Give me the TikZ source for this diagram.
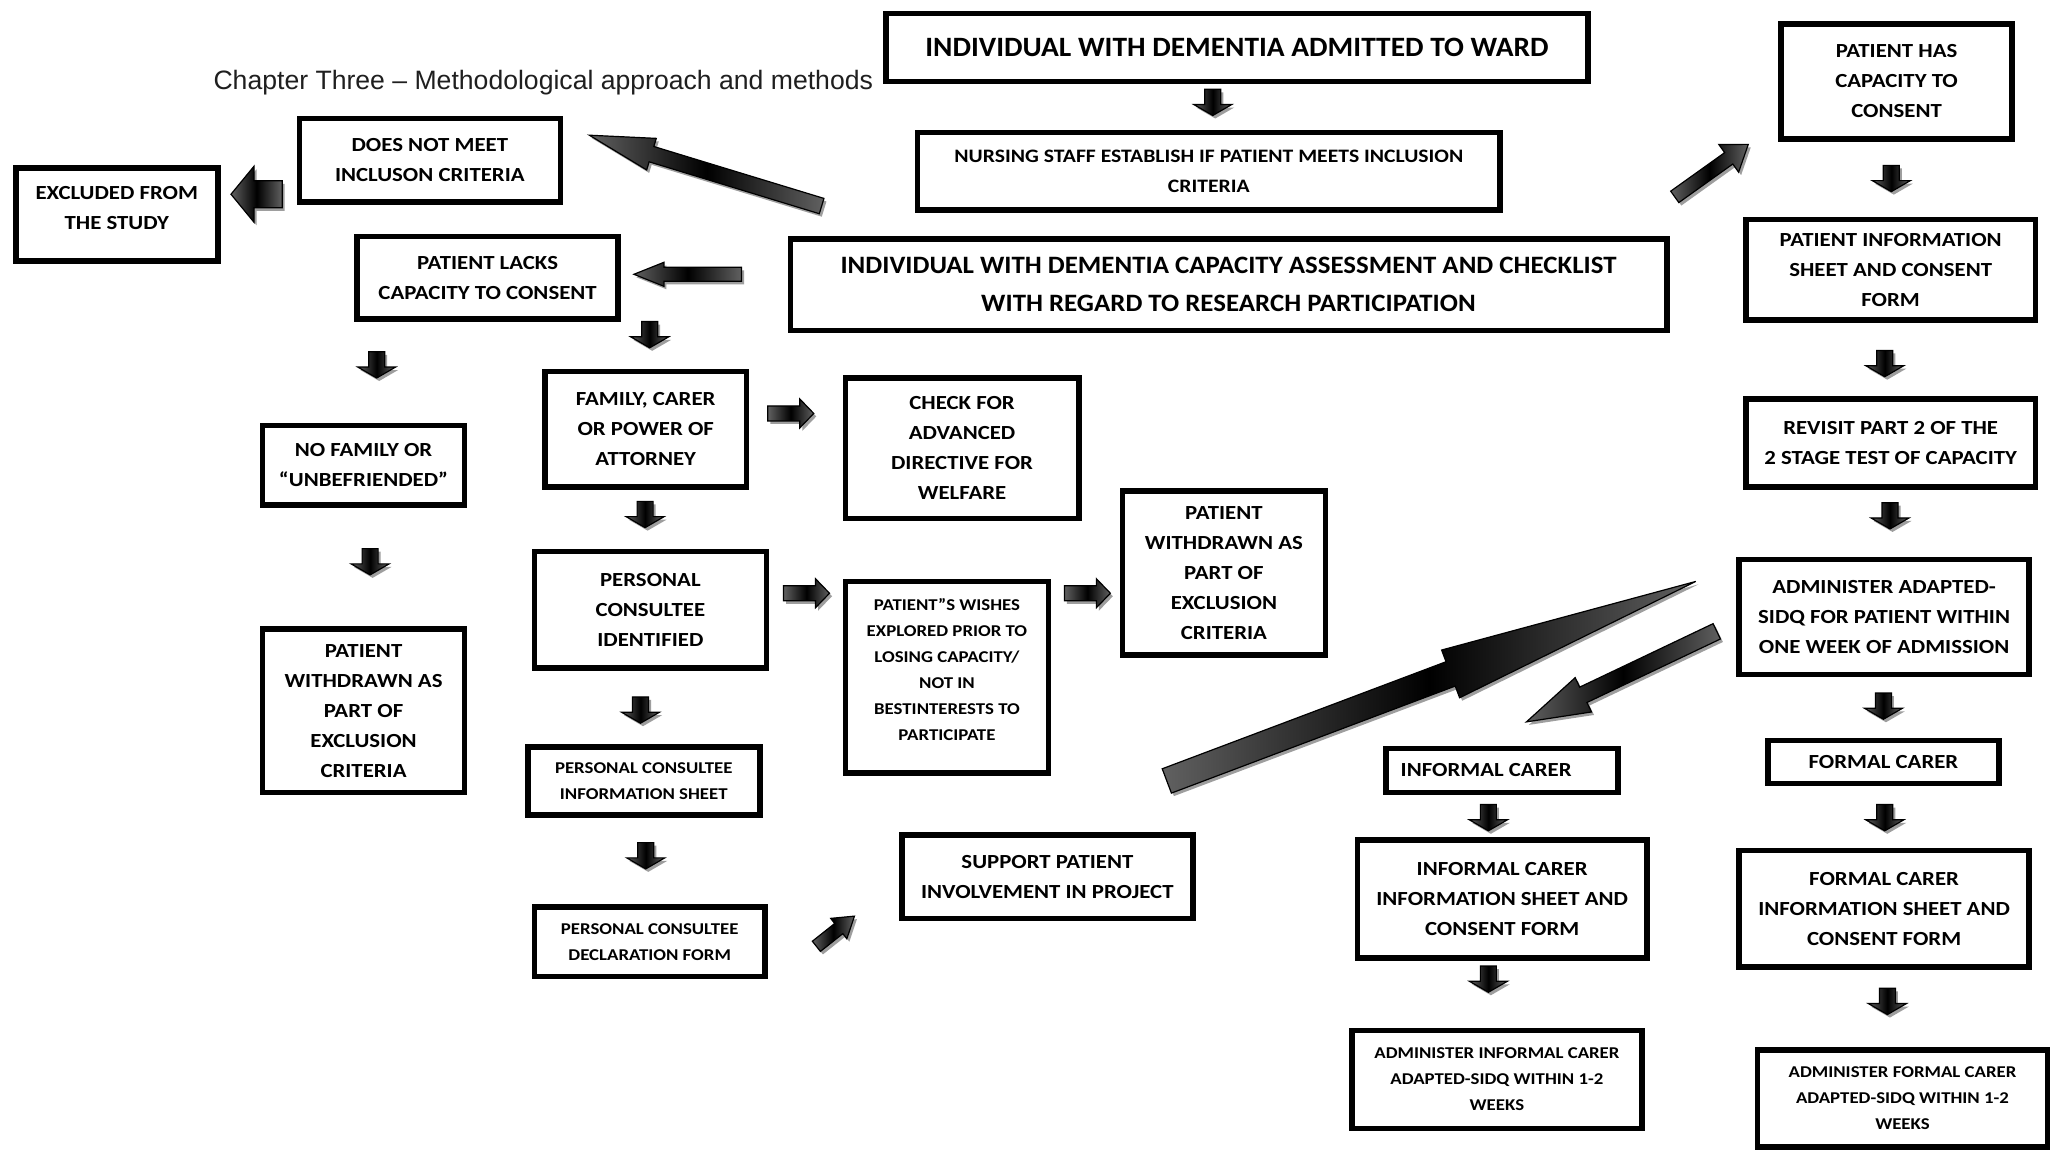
\documentclass[tikz,border=0pt]{standalone}
\usepackage{fontspec}
\setmainfont{Carlito}[FakeStretch=1.14]
\newfontfamily\topfont{Carlito}[FakeStretch=1.05]
\newfontfamily\capfont{Carlito}[FakeStretch=1.075]
\newfontfamily\headfont{Liberation Sans}
\usetikzlibrary{calc}

% box given by its corners (x1,y1)-(x2,y2)
\newcommand\flowbox[7][]{%
  \node[fbox,#1,
        minimum width={(#5-#3)*1.3125pt-5.5pt},
        minimum height={(#6-#4)*1.3125pt-5.5pt}]
    (#2) at ({(#3+#5)/2},{(#4+#6)/2}) {#7};}

% outline of a block arrow: tail, tip, half shaft, half head (neck point is (ban))
\newcommand\arrowoutline[4]{($(#1)!#3!90:(#2)$) -- ($(ban)!#3!90:(#2)$) -- ($(ban)!#4!90:(#2)$) -- (#2) -- ($(ban)!#4!-90:(#2)$) -- ($(ban)!#3!-90:(#2)$) -- ($(#1)!#3!-90:(#2)$) -- cycle}

% block arrow with drop shadow: tail, tip, half shaft, half head, head length
\newcommand\blockarrow[5]{%
  \coordinate (ban) at ($(#2)!#5!(#1)$);
  \fill[arrshadow,transform canvas={shift={(2.5pt,-3pt)}}] \arrowoutline{#1}{#2}{#3}{#4};
  \path[arrbody] \arrowoutline{#1}{#2}{#3}{#4};}

\begin{document}
\begin{tikzpicture}[x=1.3125pt,y=-1.3125pt,
  fbox/.style={draw=black, line width=5.5pt, fill=white, align=center, inner sep=0pt,
               font=\bfseries\fontsize{20}{30}\selectfont},
  txtbig/.style={font=\topfont\bfseries\fontsize{28}{38}\selectfont},
  txtcap/.style={font=\capfont\bfseries\fontsize{25}{38}\selectfont},
  txtmid/.style={font=\bfseries\fontsize{19}{30}\selectfont},
  txtsmall/.style={font=\bfseries\fontsize{16.5}{26}\selectfont},
  arrbody/.style={draw=black, line width=1.2pt, line join=miter,
                  left color=black!62, right color=black!62, middle color=black},
  arrshadow/.style={fill=black!38},
]
\fill[white] (0,0) rectangle (1568,878);
\useasboundingbox (0,0) rectangle (1568,878);

\node[anchor=base west, text=black!88, font=\headfont\fontsize{26.6}{30}\selectfont]
  (hdr) at (160,68) {Chapter Three – Methodological approach and methods};

% ---------------- boxes ----------------
\flowbox[txtbig]{admit}{673}{8}{1212}{64}{INDIVIDUAL WITH DEMENTIA ADMITTED TO WARD}
\flowbox[txtmid]{nurse}{697}{99}{1145}{162}{NURSING STAFF ESTABLISH IF PATIENT MEETS INCLUSION\\CRITERIA}
\flowbox[txtcap]{assess}{600}{180}{1272}{254}{INDIVIDUAL WITH DEMENTIA CAPACITY ASSESSMENT AND CHECKLIST\\WITH REGARD TO RESEARCH PARTICIPATION}
\flowbox{notmeet}{226}{88}{429}{156}{DOES NOT MEET\\INCLUSON CRITERIA}
\flowbox{excl}{10}{126}{168}{201}{EXCLUDED FROM\\THE STUDY\\[-17pt]}
\flowbox{lacks}{270}{178}{473}{245}{PATIENT LACKS\\CAPACITY TO CONSENT}
\flowbox{has}{1355}{16}{1535}{108}{PATIENT HAS\\CAPACITY TO\\CONSENT}
\flowbox{pinfo}{1328}{165}{1553}{246}{PATIENT INFORMATION\\SHEET AND CONSENT\\FORM}
\flowbox{revisit}{1328}{302}{1553}{373}{REVISIT PART 2 OF THE\\2 STAGE TEST OF CAPACITY}
\flowbox{sidq}{1323}{424}{1548}{516}{ADMINISTER ADAPTED-\\SIDQ FOR PATIENT WITHIN\\ONE WEEK OF ADMISSION}
\flowbox{formal}{1345}{562}{1525}{599}{FORMAL CARER}
\flowbox{formalinfo}{1323}{646}{1548}{739}{FORMAL CARER\\INFORMATION SHEET AND\\CONSENT FORM}
\flowbox[txtsmall]{formalsidq}{1337}{798}{1562}{876}{ADMINISTER FORMAL CARER\\ADAPTED-SIDQ WITHIN 1-2\\WEEKS}
\flowbox{informal}{1054}{568}{1235}{606}{INFORMAL CARER\hspace*{32pt}}
\flowbox{informalinfo}{1032}{638}{1257}{732}{INFORMAL CARER\\INFORMATION SHEET AND\\CONSENT FORM}
\flowbox[txtsmall]{informalsidq}{1028}{783}{1253}{862}{ADMINISTER INFORMAL CARER\\ADAPTED-SIDQ WITHIN 1-2\\WEEKS}
\flowbox{nofam}{198}{322}{356}{387}{NO FAMILY OR\\“UNBEFRIENDED”}
\flowbox{wdleft}{198}{477}{356}{606}{PATIENT\\WITHDRAWN AS\\PART OF\\EXCLUSION\\CRITERIA}
\flowbox{family}{413}{281}{571}{373}{FAMILY, CARER\\OR POWER OF\\ATTORNEY}
\flowbox{directive}{642}{286}{824}{397}{CHECK FOR\\ADVANCED\\DIRECTIVE FOR\\WELFARE}
\flowbox{consultee}{405}{418}{586}{511}{PERSONAL\\CONSULTEE\\IDENTIFIED}
\flowbox[txtsmall]{wishes}{642}{441}{801}{591}{PATIENT”S WISHES\\EXPLORED PRIOR TO\\LOSING CAPACITY/\\NOT IN\\BESTINTERESTS TO\\PARTICIPATE\\[-10pt]}
\flowbox{wdmid}{853}{372}{1012}{501}{PATIENT\\WITHDRAWN AS\\PART OF\\EXCLUSION\\CRITERIA}
\flowbox[txtsmall]{pcinfo}{400}{567}{581}{623}{PERSONAL CONSULTEE\\INFORMATION SHEET}
\flowbox[txtsmall]{pcdecl}{405}{689}{585}{746}{PERSONAL CONSULTEE\\DECLARATION FORM}
\flowbox{support}{685}{634}{911}{702}{SUPPORT PATIENT\\INVOLVEMENT IN PROJECT}

% ---------------- arrow end points ----------------
\coordinate (t1) at (924,68);   \coordinate (h1) at (924,88);
\coordinate (t2) at (495,245);  \coordinate (h2) at (495,265);
\coordinate (t3) at (287,268);  \coordinate (h3) at (287,288);
\coordinate (t4) at (282,418);  \coordinate (h4) at (282,438);
\coordinate (t5) at (491.5,382);\coordinate (h5) at (491.5,402);
\coordinate (t6) at (488,531);  \coordinate (h6) at (488,551);
\coordinate (t7) at (492,642);  \coordinate (h7) at (492,662);
\coordinate (t8) at (1441,126); \coordinate (h8) at (1441,146);
\coordinate (t9) at (1436,267); \coordinate (h9) at (1436,287);
\coordinate (t10) at (1440,383);\coordinate (h10) at (1440,403);
\coordinate (t11) at (1435,528);\coordinate (h11) at (1435,548);
\coordinate (t12) at (1436,613);\coordinate (h12) at (1436,633);
\coordinate (t13) at (1438,753);\coordinate (h13) at (1438,773);
\coordinate (t14) at (1134,613);\coordinate (h14) at (1134,633);
\coordinate (t15) at (1134,736);\coordinate (h15) at (1134,756);

\coordinate (r1t) at (585,315); \coordinate (r1h) at (620,315);
\coordinate (r2t) at (597,452); \coordinate (r2h) at (632,452);
\coordinate (r3t) at (811,452); \coordinate (r3h) at (846,452);

\coordinate (lkt) at (565,209); \coordinate (lkh) at (483,209);
\coordinate (ext) at (215,148); \coordinate (exh) at (176,148);
\coordinate (nmt) at (626,157); \coordinate (nmh) at (449,103);
\coordinate (hct) at (1276,150);\coordinate (hch) at (1332,110);
\coordinate (bgt) at (889,595); \coordinate (bgh) at (1292,443);
\coordinate (ict) at (1308,481);\coordinate (ich) at (1163,550);
\coordinate (spt) at (622,721); \coordinate (sph) at (651,698);

% ---------------- arrows ----------------
\foreach \i in {1,...,15}{\blockarrow{t\i}{h\i}{8pt}{19pt}{11pt}}
\foreach \i in {1,2,3}{\blockarrow{r\i t}{r\i h}{7.5pt}{14.5pt}{14pt}}
\blockarrow{lkt}{lkh}{7pt}{12pt}{30pt}
\blockarrow{ext}{exh}{13.5pt}{28pt}{23pt}
\blockarrow{nmt}{nmh}{8pt}{16.5pt}{65pt}
\blockarrow{hct}{hch}{7pt}{17pt}{24pt}
\blockarrow{bgt}{bgh}{13pt}{25.5pt}{262pt}
\blockarrow{ict}{ich}{8.5pt}{19pt}{63pt}
\blockarrow{spt}{sph}{6.5pt}{13pt}{20pt}
\end{tikzpicture}
\end{document}
